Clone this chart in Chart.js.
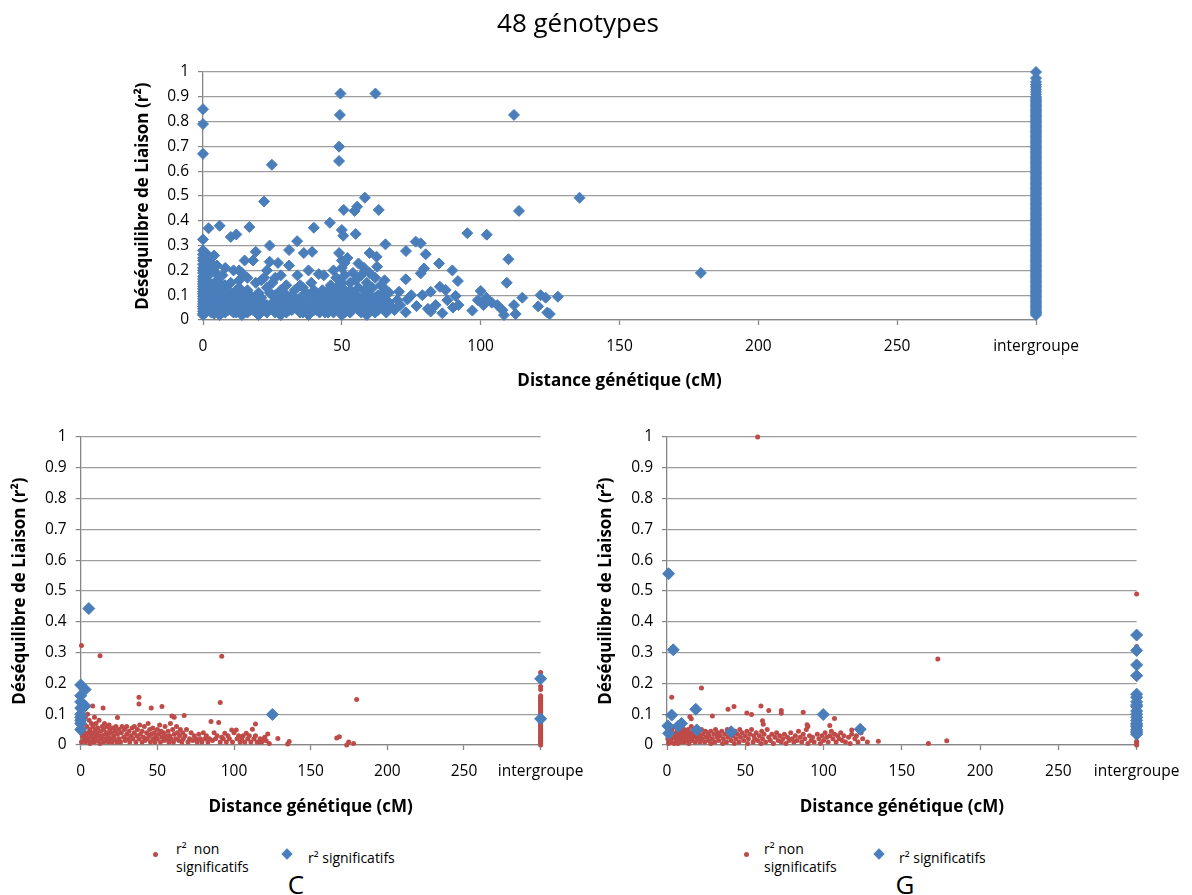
<!DOCTYPE html>
<html><head><meta charset="utf-8">
<script src="https://cdn.jsdelivr.net/npm/chart.js@4.4.0/dist/chart.umd.min.js"></script>
<style>
body{margin:0;background:#fff;width:1192px;height:895px;position:relative;overflow:hidden;font-family:'Open Sans',sans-serif;}
canvas{position:absolute;}
#c0{left:0;top:0}
#c1{left:0;top:400px}
#c2{left:596px;top:400px}
.lg{position:absolute;font-size:14px;line-height:18px;color:#000;white-space:nowrap;}
.dot{position:absolute;width:5px;height:5px;border-radius:50%;background:#BE4B48;}
.dia{position:absolute;width:8px;height:8px;background:#4A7EBB;transform:rotate(45deg);}
.cap{position:absolute;font-size:26px;line-height:30px;transform:translateX(-50%);color:#000;}
</style></head><body>
<canvas id="c0" width="1192" height="400"></canvas>
<canvas id="c1" width="596" height="420"></canvas>
<canvas id="c2" width="596" height="420"></canvas>

<div class="dot" style="left:153px;top:852px"></div>
<div class="lg" style="left:176px;top:840px">r²&nbsp; non<br>significatifs</div>
<div class="dia" style="left:283px;top:850px"></div>
<div class="lg" style="left:308px;top:849px">r² significatifs</div>
<div class="cap" style="left:296px;top:869px">C</div>

<div class="dot" style="left:744px;top:852px"></div>
<div class="lg" style="left:764px;top:840px">r² non<br>significatifs</div>
<div class="dia" style="left:875px;top:850px"></div>
<div class="lg" style="left:899px;top:849px">r² significatifs</div>
<div class="cap" style="left:905px;top:869px">G</div>

<script>
const INTER = 300;
const xTickLabels = ['0','50','100','150','200','250','intergroupe'];
const yTickLabels = ['0','0.1','0.2','0.3','0.4','0.5','0.6','0.7','0.8','0.9','1'];
const xTitle = 'Distance génétique (cM)';
const yTitle = 'Déséquilibre de Liaison (r²)';
const title48 = '48 génotypes';

// 48 génotypes : r² significatifs (distance, r²)
const sig48 = [
[0,0.85],[0,0.79],[0,0.67],[0,0.325],[0,0.28],[0,0.265],[0,0.25],[0,0.24],[0,0.225],[0,0.21],[0,0.2],[0,0.19],[0,0.175],[0,0.165],[0,0.155],[0,0.145],[0,0.135],[0,0.125],[0,0.115],[0,0.105],[0,0.095],[0,0.085],[0,0.075],[0,0.065],[0,0.055],[0,0.045],[0,0.035],[0,0.025],[0,0.02],
[1,0.27],[1.5,0.24],[2,0.37],[1,0.21],[2,0.18],[1.5,0.15],[2.5,0.12],[1,0.1],[3,0.09],[2,0.06],[1,0.04],[3,0.03],[2.5,0.2],[3,0.23],[1.5,0.16],
[4,0.26],[5,0.22],[6,0.38],[4.5,0.19],[5,0.16],[6,0.13],[7,0.11],[4,0.09],[5,0.07],[6,0.05],[7,0.03],[8,0.08],[9,0.1],[8,0.14],[9,0.06],[10,0.04],[7,0.18],[8,0.21],[9,0.12],[10,0.09],[6,0.02],[3.5,0.05],[5.5,0.11],
[10,0.335],[12,0.345],[11,0.2],[11,0.07],[12,0.12],[13,0.05],[13,0.16],[14,0.09],[14,0.19],[15,0.03],[15,0.24],[16,0.12],[16,0.06],[16.7,0.375],[17,0.1],[18,0.24],[18,0.04],[19,0.275],[19,0.15],[19,0.08],[20,0.11],[20,0.02],[12,0.03],[16,0.17],[11,0.1],[13,0.13],[17,0.07],[18,0.05],[14,0.02],[20,0.06],
[21,0.09],[22,0.478],[22,0.04],[23,0.13],[23,0.2],[24,0.3],[24.8,0.626],[24,0.235],[25,0.07],[25,0.15],[26,0.1],[26,0.03],[27,0.23],[27,0.06],[28,0.12],[28,0.18],[29,0.08],[29,0.04],[30,0.14],[30,0.1],[21,0.16],[22,0.17],[23,0.06],[26,0.17],[28,0.02],[30,0.05],[24,0.11],
[31,0.282],[31,0.22],[32,0.07],[33.9,0.318],[33,0.12],[34,0.05],[34,0.18],[35,0.09],[36.3,0.27],[36,0.13],[36,0.03],[37,0.06],[38,0.1],[38,0.2],[39.3,0.275],[39,0.15],[39.9,0.372],[40,0.08],[40,0.04],[32,0.1],[35,0.14],[37,0.11],[31,0.04],[38,0.02],[39,0.06],
[41.7,0.185],[43.5,0.18],[41,0.1],[42,0.06],[43,0.12],[44,0.03],[45,0.08],[45.7,0.392],[46,0.14],[46,0.05],[47,0.1],[47,0.2],[48,0.07],[48,0.17],[49,0.27],[49,0.12],[49,0.04],[49.5,0.913],[49.3,0.827],[49,0.699],[49,0.641],[50,0.363],[50.5,0.34],[50,0.24],[50,0.21],[50,0.15],[50,0.09],[50,0.02],[44,0.1],[41,0.04],[43,0.07],[47,0.03],[48,0.13],[46,0.09],
[50.7,0.444],[51,0.23],[51,0.18],[51,0.12],[51,0.06],[52,0.1],[52,0.25],[53,0.15],[53,0.03],[53,0.08],[54.6,0.44],[55.5,0.457],[55,0.347],[54,0.19],[54,0.11],[55,0.06],[55,0.16],[56,0.228],[56,0.13],[56,0.04],[57,0.09],[57,0.18],[58.3,0.493],[58,0.12],[58,0.06],[59,0.15],[59,0.02],[60,0.27],[60,0.1],[60,0.19],[52,0.05],[57,0.03],[58,0.21],[53,0.12],[59,0.08],
[61,0.13],[61,0.07],[62.5,0.255],[62.1,0.913],[62.7,0.215],[63.3,0.444],[62,0.17],[63,0.1],[63,0.04],[64,0.14],[64,0.06],[65.7,0.305],[65.4,0.16],[65,0.09],[66,0.12],[66,0.03],[67,0.07],[67,0.11],[68,0.05],[69,0.04],[70,0.08],[62,0.03],
[70.6,0.114],[73.1,0.278],[73,0.164],[73.6,0.083],[73,0.031],[76.9,0.056],[76.6,0.316],[78.4,0.309],[80.2,0.265],[79.6,0.208],[78.4,0.188],[82,0.114],[82,0.034],[81,0.045],[85,0.228],[85.3,0.134],[87.4,0.121],[83.8,0.06],[86.2,0.027],[89.8,0.2],[91.8,0.157],[91,0.097],[88,0.08],[92,0.06],[75,0.1],[71,0.06],[79,0.1],[90,0.05],
[95.2,0.35],[102.2,0.344],[100,0.117],[102,0.09],[97,0.038],[101,0.06],[99,0.08],[104,0.07],[106,0.06],[107.8,0.04],[108.4,0.02],[110,0.245],[109.4,0.15],[112,0.827],[113.8,0.44],[115,0.09],[112,0.06],[112.6,0.024],[121.6,0.1],[120.7,0.055],[123.4,0.09],[124,0.03],[127.8,0.094],[124.9,0.024],[135.6,0.493],[179.3,0.19],
[1,0.03],[2,0.045],[3,0.06],[4,0.025],[5,0.04],[6,0.07],[7,0.05],[8,0.03],[9,0.04],[10,0.06],[11,0.03],[12,0.07],[13,0.09],[14,0.05],[15,0.08],[15,0.11],[16,0.03],[17,0.04],[18,0.09],[19,0.05],[20,0.085],[21,0.04],[22,0.065],[23,0.03],[24,0.05],[25,0.1],[26,0.065],[27,0.09],[27,0.03],[28,0.055],[29,0.11],[30,0.03],[31,0.075],[32,0.04],[33,0.09],[34,0.07],[35,0.03],[36,0.08],[37,0.04],[38,0.055],[39,0.1],[40,0.12],[41,0.07],[42,0.03],[43,0.095],[44,0.05],[45,0.12],[45,0.03],[46,0.065],[47,0.045],[48,0.1],[49,0.08],[50,0.05],[51,0.03],[52,0.075],[53,0.05],[54,0.08],[55,0.1],[56,0.07],[57,0.055],[58,0.035],[59,0.1],[60,0.06],[61,0.04],[62,0.09],[63,0.065],[64,0.1],[65,0.045],[66,0.07],[2,0.1],[3,0.14],[4,0.12],[6,0.1],[7,0.14],[8,0.11],[10,0.15],[12,0.09],[13,0.2],[1.5,0.08],[5,0.13]
];
// 48 génotypes : r² significatifs, paires intergroupe
const sig48Inter = [1.0,0.975,0.96,0.95,0.94,0.93,0.92,0.91,
0.9,0.895,0.89,0.885,0.88,0.875,0.87,0.865,0.86,0.855,0.85,0.845,0.84,0.835,0.83,0.825,0.82,0.815,0.81,0.805,
0.8,0.795,0.79,0.785,0.78,0.775,0.77,0.765,0.76,0.755,0.75,0.745,0.74,0.735,0.73,0.725,0.72,0.715,0.71,0.705,
0.7,0.695,0.69,0.685,0.68,0.675,0.67,0.665,0.66,0.655,0.65,0.645,0.64,0.635,0.63,0.625,0.62,0.615,0.61,0.605,
0.6,0.595,0.59,0.585,0.58,0.575,0.57,0.565,0.56,0.555,0.55,0.545,0.54,0.535,0.53,0.525,0.52,0.515,0.51,0.505,
0.5,0.495,0.49,0.485,0.48,0.475,0.47,0.465,0.46,0.455,0.45,0.445,0.44,0.435,0.43,0.425,0.42,0.415,0.41,0.405,
0.4,0.395,0.39,0.385,0.38,0.375,0.37,0.365,0.36,0.355,0.35,0.345,0.34,0.335,0.33,0.325,0.32,0.315,0.31,0.305,
0.3,0.295,0.29,0.285,0.28,0.275,0.27,0.265,0.26,0.255,0.25,0.245,0.24,0.235,0.23,0.225,0.22,0.215,0.21,0.205,
0.2,0.195,0.19,0.185,0.18,0.175,0.17,0.165,0.16,0.155,0.15,0.145,0.14,0.135,0.13,0.125,0.12,0.115,0.11,0.105,
0.1,0.095,0.09,0.085,0.08,0.075,0.07,0.065,0.06,0.055,0.05,0.045,0.04,0.035,0.03,0.025,0.02];

// C : r² significatifs
const sigC = [[0,0.195],[0,0.16],[0,0.14],[0,0.12],[0,0.1],[0,0.09],[0,0.08],[0,0.07],[0,0.05],[2.9,0.18],[2.9,0.127],[5.3,0.443],[125,0.099]];
const sigCInter = [0.215,0.085];
// C : r² non significatifs
const nsC = [
[0.5,0.323],[12.6,0.29],[92,0.288],[38,0.155],[38,0.133],[46,0.12],[53,0.125],[91,0.138],[180,0.148],[7.8,0.127],[14.6,0.12],
[24,0.089],[61,0.09],[67.5,0.096],[59.5,0.094],[114,0.068],[112,0.051],[122,0.036],[128.6,0.021],[136,0.011],[135,0.003],[167,0.023],[168.7,0.027],[173.5,0],[174.8,0.01],[178,0.005],
[85,0.076],[90,0.073],[94,0.038],[98.5,0.049],[101.5,0.049],[108,0.038],[119,0.018],[116.5,0.01],[121,0.014],
[0.5,0.01],[1,0.03],[1.5,0.05],[2,0.02],[2,0.07],[2.5,0.04],[3,0.01],[3,0.09],[3.5,0.03],[4,0.06],[4,0.015],[4.5,0.1],[5,0.04],[5,0.02],[5.5,0.08],[6,0.005],[6,0.05],[6.5,0.03],[7,0.07],[7,0.01],[7.5,0.04],[8,0.02],[8,0.06],[8.5,0.035],[9,0.09],[9,0.01],[9.5,0.05],[10,0.025],[10,0.07],[10.5,0.04],[11,0.015],[11,0.055],[12,0.03],[12,0.08],[12.5,0.005],[13,0.045],[13.5,0.02],[14,0.06],[14,0.03],[15,0.01],[15,0.05],[15.5,0.07],[16,0.035],[16.5,0.02],[17,0.06],[17,0.04],[18,0.01],[18,0.03],[18.5,0.065],[19,0.05],[19.5,0.02],[20,0.04],[20.5,0.01],[21,0.055],[21.5,0.03],[22,0.02],[22.5,0.045],[23,0.06],[23.5,0.01],[24,0.035],[25,0.02],[25,0.05],[26,0.01],[26.5,0.04],[27,0.06],[28,0.025],[28.5,0.05],[29,0.015],[30,0.035],[30,0.06],[31,0.02],[31.5,0.045],[32,0.01],[33,0.03],[33.5,0.055],[34,0.02],[35,0.04],[35,0.06],[36,0.01],[36.5,0.03],[37,0.05],[38,0.02],[38.5,0.065],[39,0.035],[40,0.01],[40,0.045],[41,0.025],[41.5,0.06],[42,0.015],[43,0.04],[43.5,0.02],[44,0.07],[44.5,0.03],[45,0.05],[45.5,0.01],[46,0.035],[47,0.02],[47,0.055],[48,0.04],[48.5,0.01],[49,0.03],[50,0.05],[50,0.02],[51,0.035],[51.5,0.065],[52,0.01],[52.5,0.045],[53,0.025],[54,0.04],[54.5,0.015],[55,0.06],[55.5,0.03],[56,0.02],[57,0.045],[57.5,0.01],[58,0.03],[58.5,0.07],[59,0.02],[60,0.05],[60.5,0.01],[61,0.035],[62,0.02],[62.5,0.06],[63,0.04],[64,0.015],[64.5,0.03],[65,0.05],[66,0.01],[66.5,0.04],[67,0.02],[68,0.03],[69,0.05],[70,0.01],[71,0.02],[72,0.04],[73,0.015],[74,0.03],[75,0.02],[76,0.01],[77,0.035],[78,0.02],[79,0.01],[80,0.04],[81,0.02],[82,0.03],[83,0.01],[84,0.02],[86,0.015],[87,0.04],[88,0.02],[89,0.03],[91,0.01],[92,0.025],[93,0.02],[95,0.01],[96,0.03],[97,0.02],[99,0.01],[100,0.04],[102,0.02],[103,0.03],[104,0.01],[105,0.02],[106,0.03],[107,0.01],[109,0.02],[110,0.03],[111,0.01],[113,0.02],[114,0.03],[115,0.01],[117,0.02],[118,0.01],[120,0.025],[123,0.005]
];
const nsCInter = [0.235,0.19,0.18,0.16,0.155,0.15,0.145,0.14,0.135,0.13,0.125,0.12,0.115,0.11,0.105,0.1,0.095,0.09,0.085,0.08,0.075,0.07,0.065,0.06,0.055,0.05,0.045,0.04,0.035,0.03,0.025,0.02,0.015,0.01,0.005,0];

// G : r² significatifs
const sigG = [[1,0.556],[4,0.309],[3,0.097],[0.5,0.062],[1,0.038],[9.3,0.07],[7,0.06],[18.4,0.116],[19,0.049],[41,0.043],[99.8,0.099],[123.4,0.051]];
const sigGInter = [0.357,0.307,0.26,0.225,0.165,0.155,0.14,0.13,0.125,0.11,0.1,0.09,0.08,0.07,0.065,0.06,0.05,0.045,0.04,0.035];
// G : r² non significatifs
const nsG = [
[57.9,1.0],[173,0.279],[22,0.185],[3,0.155],[39,0.116],[42.8,0.125],[60,0.127],[65,0.112],[73,0.112],[73,0.103],[51,0.104],[54,0.099],[87,0.106],[107,0.086],[29,0.094],[14.6,0.092],[15.5,0.085],[61,0.079],[61.5,0.067],
[89.5,0.066],[90,0.06],[104,0.063],[118,0.049],[128,0.01],[135,0.012],[167,0.005],[178.7,0.014],
[0.5,0.02],[1,0.005],[1,0.04],[1.5,0.015],[2,0.03],[2.5,0.01],[3,0.05],[3,0.02],[4,0.035],[4.5,0.005],[5,0.025],[5,0.06],[5.5,0.04],[6,0.015],[6.5,0.03],[7,0.045],[7,0.005],[7.5,0.02],[8,0.035],[8.5,0.055],[9,0.01],[9,0.03],[9.5,0.045],[10,0.02],[10.5,0.035],[11,0.05],[11,0.01],[11.5,0.025],[12,0.04],[12.5,0.015],[13,0.03],[13.5,0.05],[14,0.005],[14,0.02],[14.5,0.04],[15,0.03],[15.5,0.06],[16,0.015],[16.5,0.045],[17,0.025],[17.5,0.035],[18,0.01],[18.5,0.05],[19,0.03],[19.5,0.02],[20,0.04],[21,0.01],[21,0.03],[22,0.05],[22.5,0.02],[23,0.035],[24,0.01],[24.5,0.045],[25,0.025],[26,0.04],[26.5,0.015],[27,0.03],[28,0.005],[28,0.045],[29,0.02],[30,0.035],[30.5,0.01],[31,0.05],[32,0.025],[32.5,0.04],[33,0.015],[34,0.03],[35,0.045],[35.5,0.005],[36,0.02],[37,0.035],[38,0.01],[38.5,0.05],[39,0.025],[40,0.04],[41,0.015],[42,0.03],[43,0.005],[43.5,0.045],[44,0.02],[45,0.035],[46,0.01],[46.5,0.05],[47,0.025],[48,0.04],[49,0.015],[50,0.03],[51,0.045],[51.5,0.005],[52,0.02],[53,0.035],[54,0.05],[55,0.01],[55.5,0.03],[56,0.02],[57,0.04],[58,0.015],[59,0.03],[60,0.005],[60.5,0.045],[61,0.02],[62,0.035],[63,0.01],[64,0.05],[65,0.025],[66,0.015],[67,0.035],[68,0.005],[69,0.025],[70,0.04],[71,0.015],[72,0.03],[73,0.01],[74,0.02],[75,0.035],[76,0.005],[77,0.025],[78,0.015],[79,0.04],[80,0.02],[81,0.01],[82,0.03],[83,0.015],[84,0.045],[85,0.025],[86,0.01],[87,0.035],[88,0.02],[89,0.05],[90,0.005],[91,0.03],[92,0.015],[93,0.025],[94,0.01],[96,0.035],[97,0.02],[98,0.005],[99,0.03],[100,0.015],[101,0.04],[102,0.025],[103,0.01],[104,0.03],[105,0.045],[106,0.02],[107,0.035],[108,0.01],[109,0.03],[110,0.02],[111,0.04],[112,0.015],[113,0.03],[114,0.01],[116,0.025],[117,0.005],[118,0.035],[120,0.02],[121,0.03],[122,0.01],[124,0.04],[125,0.02]
];
const nsGInter = [0.49,0.32,0.012,0.008,0.004,0];

const BLUE = '#4A7EBB', RED = '#BE4B48';
const FONT = "'Open Sans', sans-serif";

function pts(pairs, inter){
  return pairs.map(p => ({x:p[0], y:p[1]})).concat(inter.map(v => ({x:INTER, y:v})));
}

function makeScales(g){
  return {
    x:{type:'linear',min:0,max:300,
      afterFit:s=>{s.height=g.xH;},
      border:{display:true,color:'#868686',width:1.3},
      grid:{drawOnChartArea:false,drawTicks:true,tickLength:5,tickColor:'#868686',tickWidth:1.3},
      ticks:{stepSize:50,autoSkip:false,maxRotation:0,padding:12.5,color:'#000',font:{family:FONT,size:15.5},callback:(v,i)=>xTickLabels[i]},
      title:{display:true,text:xTitle,color:'#000',font:{family:FONT,size:17,weight:'bold'},padding:{top:0,bottom:g.xTitlePad}}},
    y:{type:'linear',min:0,max:1,
      afterFit:s=>{s.width=g.yW;},
      border:{display:true,color:'#868686',width:1.3},
      grid:{color:'#9d9d9d',lineWidth:1.2,drawTicks:true,tickLength:5,tickColor:'#868686'},
      ticks:{stepSize:0.1,padding:9,color:'#000',font:{family:FONT,size:15.5},callback:(v,i)=>yTickLabels[i]},
      title:{display:true,text:yTitle,color:'#000',font:{family:FONT,size:17,weight:'bold'},padding:{top:g.yTitlePad,bottom:0}}}
  };
}

function make(id, datasets, g, title){
  new Chart(document.getElementById(id), {
    type:'scatter',
    data:{datasets},
    options:{
      responsive:false, animation:false, devicePixelRatio:1,
      layout:{padding:g.pad},
      plugins:{
        legend:{display:false}, tooltip:{enabled:false},
        title: title ? {display:true,text:title,color:'#000',font:{family:FONT,size:26,weight:'normal'},padding:{top:8,bottom:31.4}} : {display:false}
      },
      scales:makeScales(g)
    }
  });
}

function blueSet(data, r){
  return {label:'r² significatifs', data, pointStyle:'rectRot', pointRadius:r, backgroundColor:BLUE, borderColor:BLUE, borderWidth:1, clip:false, order:0};
}
function redSet(data){
  return {label:'r² non significatifs', data, pointStyle:'circle', pointRadius:2.5, backgroundColor:RED, borderColor:RED, borderWidth:0, clip:false, order:1};
}

make('c0', [blueSet(pts(sig48, sig48Inter), 5.5)],
  {pad:{left:120,right:156,top:1.4,bottom:0}, yW:83, yTitlePad:12.8, xH:80, xTitlePad:8.8}, title48);
make('c1', [blueSet(pts(sigC, sigCInter), 6), redSet(pts(nsC, nsCInter))],
  {pad:{left:0,right:40,top:37,bottom:0}, yW:80.7, yTitlePad:9.8, xH:75, xTitlePad:2.8});
make('c2', [blueSet(pts(sigG, sigGInter), 6), redSet(pts(nsG, nsGInter))],
  {pad:{left:0,right:41,top:37,bottom:0}, yW:71, yTitlePad:0, xH:75, xTitlePad:2.8});
</script>
</body></html>
